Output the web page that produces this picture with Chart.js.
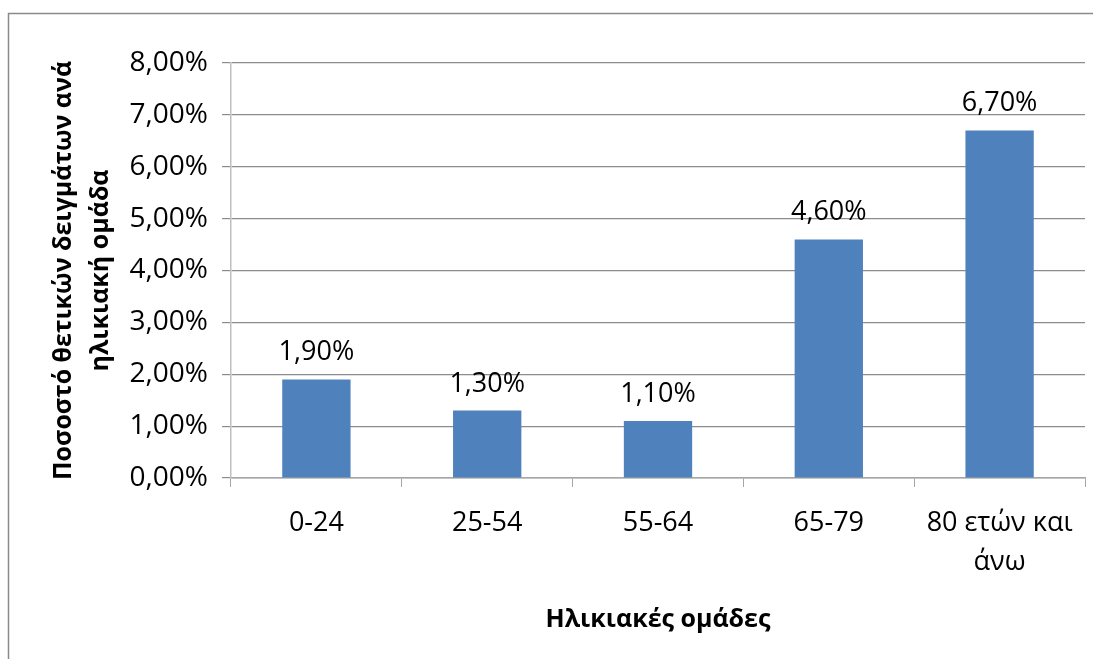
<!DOCTYPE html>
<html>
<head>
<meta charset="utf-8">
<script src="https://cdn.jsdelivr.net/npm/chart.js@4/dist/chart.umd.min.js"></script>
<style>
  html, body { margin: 0; padding: 0; background: #fff; }
  #wrap { width: 1093px; height: 659px; }
</style>
</head>
<body>
<div id="wrap"><canvas id="chart" width="1093" height="659"></canvas></div>
<script>
// δεδομένα
const categories = ["0-24", "25-54", "55-64", "65-79", ["80 ετών και", "άνω"]];
const positivePct = [1.9, 1.3, 1.1, 4.6, 6.7];
const yTitle = ["Ποσοστό θετικών δειγμάτων ανά", "ηλικιακή ομάδα"];
const xTitle = "Ηλικιακές ομάδες";

const FONT = "'Open Sans', 'DejaVu Sans', sans-serif";

function pct(v) {
  return v.toFixed(2).replace(".", ",") + "%";
}

// περίγραμμα γραφήματος
const frame = {
  id: "frame",
  beforeDraw(chart) {
    const ctx = chart.ctx;
    ctx.save();
    ctx.fillStyle = "#fff";
    ctx.fillRect(0, 0, chart.width, chart.height);
    ctx.strokeStyle = "#8a8a8a";
    ctx.lineWidth = 1.5;
    ctx.strokeRect(8.5, 13.5, chart.width + 20, chart.height + 20);
    ctx.restore();
  }
};

// ετικέτες τιμών πάνω από τις μπάρες
const valueLabels = {
  id: "valueLabels",
  afterDatasetsDraw(chart) {
    const ctx = chart.ctx;
    const meta = chart.getDatasetMeta(0);
    ctx.save();
    ctx.font = "27px " + FONT;
    ctx.fillStyle = "#000";
    ctx.textAlign = "center";
    ctx.textBaseline = "alphabetic";
    meta.data.forEach((bar, i) => {
      ctx.fillText(pct(positivePct[i]), bar.x, bar.y - 19);
    });
    ctx.restore();
  }
};

new Chart(document.getElementById("chart"), {
  type: "bar",
  data: {
    labels: categories,
    datasets: [{
      data: positivePct,
      backgroundColor: "#4F81BD",
      categoryPercentage: 1,
      barPercentage: 0.4
    }]
  },
  options: {
    responsive: false,
    animation: false,
    devicePixelRatio: 1,
    layout: { padding: { left: 45, right: 8, top: 63, bottom: 0 } },
    plugins: {
      legend: { display: false },
      tooltip: { enabled: false }
    },
    scales: {
      x: {
        offset: true,
        afterFit: s => { s.height = 659 - 478; },
        grid: {
          offset: true,
          drawOnChartArea: false,
          color: "#a6a6a6",
          tickLength: 9
        },
        border: { color: "#a6a6a6", width: 1.5 },
        ticks: {
          color: "#000",
          font: { family: FONT, size: 27, lineHeight: 1.45 },
          padding: 17,
          maxRotation: 0
        },
        title: {
          display: true,
          text: xTitle,
          color: "#000",
          font: { family: FONT, size: 25, weight: "bold" },
          padding: { top: 0, bottom: 24 }
        }
      },
      y: {
        min: 0,
        max: 8,
        afterFit: s => { s.width = 231 - 45; },
        grid: {
          color: "#8c8c8c",
          lineWidth: 1.2,
          tickLength: 9
        },
        border: { color: "#bfbfbf", width: 1.5 },
        ticks: {
          stepSize: 1,
          color: "#000",
          font: { family: FONT, size: 28 },
          padding: 14,
          callback: v => pct(v)
        },
        title: {
          display: true,
          text: yTitle,
          color: "#000",
          font: { family: FONT, size: 25, weight: "bold", lineHeight: 1.5 },
          padding: { top: 0, bottom: 0 }
        }
      }
    }
  },
  plugins: [frame, valueLabels]
});
</script>
</body>
</html>
